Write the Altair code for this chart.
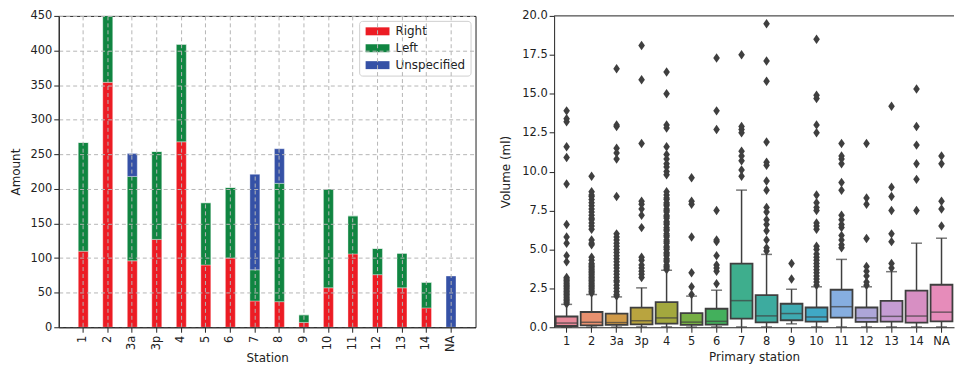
import altair as alt
import pandas as pd

# ---------------- data ----------------
stations = ["1", "2", "3a", "3p", "4", "5", "6", "7", "8", "9", "10", "11", "12", "13", "14", "NA"]

# left panel: stacked counts
right_counts = [110, 354, 96, 127, 268, 90, 100, 38, 37, 7, 57, 106, 76, 57, 28, 0]
left_counts = [157, 98, 122, 127, 141, 90, 102, 45, 171, 11, 143, 55, 38, 50, 37, 0]
unspecified_counts = [0, 0, 33, 0, 0, 0, 0, 138, 50, 0, 0, 0, 0, 0, 0, 74]
sides = ["Right", "Left", "Unspecified"]
side_colors = ["#ec1c24", "#108541", "#3551a6"]

# right panel: box statistics (volume, ml)
q1 = [0.08, 0.12, 0.15, 0.18, 0.24, 0.15, 0.17, 0.56, 0.32, 0.45, 0.36, 0.62, 0.34, 0.36, 0.30, 0.38]
median = [0.27, 0.32, 0.30, 0.42, 0.60, 0.33, 0.38, 1.71, 0.73, 0.88, 0.66, 1.32, 0.60, 0.70, 0.72, 0.97]
q3 = [0.69, 0.98, 0.87, 1.26, 1.62, 0.91, 1.19, 4.09, 2.07, 1.51, 1.27, 2.41, 1.27, 1.69, 2.35, 2.73]
whisk_lo = [0.01, 0.01, 0.01, 0.02, 0.02, 0.01, 0.02, 0.02, 0.02, 0.22, 0.02, 0.02, 0.02, 0.02, 0.02, 0.02]
whisk_hi = [1.47, 2.10, 1.95, 2.53, 3.66, 2.00, 2.38, 8.81, 4.68, 2.44, 2.60, 4.36, 2.60, 3.57, 5.40, 5.72]
box_colors = ["#e8899a", "#e8906f", "#d09a48", "#b9a43f", "#a3a83e", "#76ae44", "#43b05c", "#3eae8d",
              "#3dab9f", "#3eaab1", "#40a8c6", "#86aee0", "#ada6d8", "#c59cd3", "#d78fc3", "#e68cba"]
y_top = [20]

outliers = {
    "1": [1.5, 1.6, 1.7, 1.8, 1.9, 2.0, 2.1, 2.2, 2.3, 2.4, 2.5, 2.6, 2.7, 2.8, 2.9, 3.0, 3.1, 3.2,
          4.2, 4.6, 5.4, 5.8, 6.6, 9.2, 10.9, 11.6, 13.2, 13.4, 13.9, 20.4],
    "2": [2.2, 2.3, 2.4, 2.5, 2.6, 2.7, 2.8, 2.9, 3.0, 3.1, 3.2, 3.3, 3.4, 3.5, 3.6, 3.7, 3.8, 3.9, 4.0,
          4.1, 4.3, 4.5, 5.3, 5.4, 5.6, 6.3, 6.5, 6.7, 6.9, 7.0, 7.2, 7.4, 7.6, 7.8, 8.0, 8.2, 8.4, 8.5,
          8.7, 9.7],
    "3a": [2.0, 2.1, 2.3, 2.5, 2.7, 2.9, 3.0, 3.2, 3.4, 3.6, 3.8, 4.0, 4.2, 4.4, 4.6, 4.8, 5.0, 5.2,
           5.4, 5.6, 5.8, 6.0, 8.4, 10.8, 11.2, 11.5, 12.9, 13.0, 16.6],
    "3p": [3.2, 3.4, 3.6, 3.8, 4.0, 4.3, 4.5, 6.4, 7.2, 7.6, 7.9, 8.1, 11.8, 15.9, 18.1],
    "4": [3.7, 3.8, 3.9, 4.0, 4.2, 4.3, 4.4, 4.6, 4.7, 4.8, 5.0, 5.1, 5.2, 5.4, 5.5, 5.6, 5.8, 5.9,
          6.0, 6.2, 6.3, 6.4, 6.6, 6.7, 6.8, 7.0, 7.1, 7.2, 7.4, 7.5, 7.6, 7.8, 7.9, 8.0, 8.2, 8.3,
          8.5, 8.7, 9.8, 10.0, 10.3, 10.5, 10.8, 11.1, 11.6, 12.8, 13.0, 15.0, 16.4],
    "5": [2.1, 2.6, 3.5, 5.8, 7.9, 8.1, 9.6],
    "6": [2.8, 3.6, 3.8, 4.0, 4.6, 5.5, 5.6, 7.5, 12.7, 13.9, 17.3],
    "7": [9.7, 10.1, 10.7, 11.0, 11.3, 12.5, 12.7, 12.9, 17.5],
    "8": [4.9, 5.1, 5.6, 6.2, 6.6, 6.9, 7.4, 7.7, 8.8, 9.4, 10.4, 10.6, 11.9, 15.8, 17.1, 19.5],
    "9": [3.1, 4.1],
    "10": [2.7, 2.9, 3.1, 3.3, 3.5, 3.7, 3.9, 4.1, 4.3, 4.5, 4.7, 5.0, 5.2, 6.3, 6.5, 6.7, 7.5, 7.7,
           8.0, 8.5, 12.5, 13.0, 14.7, 14.9, 18.5],
    "11": [5.1, 5.3, 5.6, 5.9, 6.4, 6.6, 6.9, 7.2, 8.8, 9.3, 10.5, 10.8, 11.0, 11.8],
    "12": [2.7, 2.9, 3.3, 3.6, 3.9, 5.7, 7.9, 8.3, 11.8],
    "13": [3.8, 4.1, 5.5, 6.0, 7.5, 8.4, 9.0, 14.2],
    "14": [7.5, 9.5, 10.5, 11.7, 12.9, 15.3],
    "NA": [6.5, 7.6, 8.1, 10.5, 11.0],
}

# ---------------- tables ----------------
rows = []
for i, s in enumerate(stations):
    for k, (side, vals) in enumerate(zip(sides, [right_counts, left_counts, unspecified_counts])):
        rows.append({"station": s, "side": side, "amount": vals[i], "k": k})
bars_df = pd.DataFrame(rows)

stats_df = pd.DataFrame({"station": stations, "q1": q1, "med": median, "q3": q3,
                         "lo": whisk_lo, "hi": whisk_hi})
out_df = pd.DataFrame([{"station": s, "v": v} for s in stations for v in outliers[s]])
top_df = pd.DataFrame({"top": y_top})

INK = "#222222"
LINE = "#3f3f3f"
FONT = "DejaVu Sans"

# ---------------- left panel ----------------
bars = alt.Chart(bars_df).mark_bar(
    size=10, clip=True, stroke="white", strokeOpacity=0.35, strokeWidth=1
).encode(
    x=alt.X("station:N", sort=stations,
            scale=alt.Scale(paddingInner=0, paddingOuter=0.5),
            axis=alt.Axis(title="Station", labelAngle=270, labelAlign="right", labelBaseline="middle",
                          grid=True, gridDash=[4, 3], gridColor="#b5b5b5", bandPosition=0.5,
                          zindex=1, labelPadding=3, titlePadding=1)),
    y=alt.Y("amount:Q", stack="zero",
            scale=alt.Scale(domain=[0, 450], nice=False),
            axis=alt.Axis(title="Amount", values=list(range(0, 451, 50)), grid=True,
                          gridDash=[4, 3], gridColor="#b5b5b5", zindex=1, titlePadding=7)),
    color=alt.Color("side:N", sort=sides,
                    scale=alt.Scale(domain=sides, range=side_colors),
                    legend=alt.Legend(title=None, orient="none", legendX=302, legendY=5,
                                      symbolType="M-3,-1H3V1H-3Z", symbolSize=64,
                                      symbolOffset=8, symbolStrokeWidth=0,
                                      labelFontSize=12, labelOffset=12,
                                      rowPadding=5, padding=4.5, fillColor="white",
                                      strokeColor="#d0d0d0", cornerRadius=3, labelColor=INK)),
    order=alt.Order("k:Q"),
).properties(width=419, height=313, view=alt.ViewBackground(stroke=INK, strokeWidth=1))

# ---------------- right panel ----------------
xr = alt.X("station:N", sort=stations,
           scale=alt.Scale(paddingInner=0, paddingOuter=0),
           axis=alt.Axis(title="Primary station", labelAngle=0, labelPadding=3, titlePadding=5,
                         grid=False))
yscale = alt.Scale(domain=[0, 20], nice=False)
yaxis = alt.Axis(title="Volume (ml)", values=[0, 2.5, 5, 7.5, 10, 12.5, 15, 17.5, 20],
                 format=".1f", grid=False, titlePadding=9, labelOverlap=False)

base = alt.Chart(stats_df)
whisk = base.mark_rule(color=LINE, strokeWidth=1.5).encode(
    x=xr, y=alt.Y("lo:Q", scale=yscale, axis=yaxis), y2="hi:Q")
cap_lo = base.mark_tick(size=11, thickness=1.5, color=LINE).encode(
    x=xr, y=alt.Y("lo:Q", scale=yscale, axis=yaxis))
cap_hi = base.mark_tick(size=11, thickness=1.5, color=LINE).encode(
    x=xr, y=alt.Y("hi:Q", scale=yscale, axis=yaxis))
box = base.mark_bar(size=22, stroke=LINE, strokeWidth=1.8).encode(
    x=xr, y=alt.Y("q1:Q", scale=yscale, axis=yaxis), y2="q3:Q",
    color=alt.Color("station:N", scale=alt.Scale(domain=stations, range=box_colors), legend=None))
med_t = base.mark_tick(size=22, thickness=1.5, color=LINE).encode(
    x=xr, y=alt.Y("med:Q", scale=yscale, axis=yaxis))
pts = alt.Chart(out_df).mark_point(
    shape="M0,-1L0.7,0L0,1L-0.7,0Z", filled=True, color=LINE, size=90, opacity=1, clip=True
).encode(x=xr, y=alt.Y("v:Q", scale=yscale, axis=yaxis))
top_spine = alt.Chart(top_df).mark_rule(color=INK, strokeWidth=1).encode(
    y=alt.Y("top:Q", scale=yscale, axis=yaxis))

boxplot = alt.layer(whisk, cap_lo, cap_hi, box, med_t, pts, top_spine).properties(
    width=402, height=313, view=alt.ViewBackground(strokeOpacity=0))

chart = alt.hconcat(bars, boxplot, spacing=23).resolve_scale(
    color="independent", x="independent", y="independent"
).properties(
    padding={"left": 1, "top": 0, "right": 0, "bottom": 0}
).configure(font=FONT).configure_axis(
    domainColor=INK, tickColor=INK, tickSize=5, labelColor=INK, titleColor=INK,
    labelFontSize=11.5, titleFontSize=12, titleFontWeight="normal", labelFont=FONT, titleFont=FONT
).configure_legend(labelFont=FONT)

chart.save("out.html", embed_options={"renderer": "svg", "actions": False})
